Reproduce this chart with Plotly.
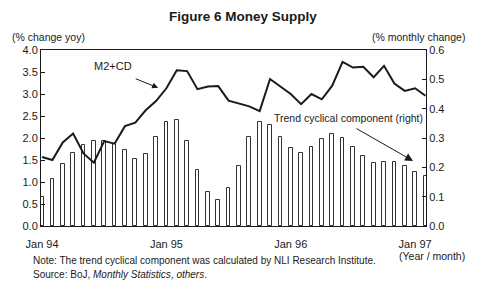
import plotly.graph_objects as go

months = list(range(38))  # Jan 94 .. Feb 97
tick_vals = [0, 12, 24, 36]
tick_text = ["Jan 94", "Jan 95", "Jan 96", "Jan 97"]

trend_cyclical = [0.10, 0.16, 0.21, 0.25, 0.275, 0.29, 0.29, 0.28, 0.26, 0.23, 0.245, 0.305,
                  0.355, 0.36, 0.29, 0.19, 0.115, 0.09, 0.13, 0.205, 0.305, 0.355, 0.345, 0.305,
                  0.265, 0.25, 0.27, 0.297, 0.312, 0.30, 0.268, 0.238, 0.215, 0.218, 0.218, 0.204,
                  0.183, 0.17]
m2cd = [1.57, 1.50, 1.90, 2.10, 1.65, 1.44, 1.93, 1.87, 2.27, 2.35, 2.63, 2.84,
        3.13, 3.54, 3.52, 3.11, 3.17, 3.18, 2.85, 2.79, 2.72, 2.61, 3.34, 3.17,
        3.00, 2.77, 3.00, 2.88, 3.19, 3.73, 3.60, 3.62, 3.38, 3.64, 3.24, 3.07,
        3.13, 2.96]

left_ticks = [0, 0.5, 1, 1.5, 2, 2.5, 3, 3.5, 4]
right_ticks = [0, 0.1, 0.2, 0.3, 0.4, 0.5, 0.6]

FONT = "Liberation Sans, Arial, sans-serif"
INK = "#1a1a1a"

fig = go.Figure()
fig.add_trace(go.Bar(x=months, y=trend_cyclical, width=0.36, yaxis="y",
                     marker=dict(color="white", line=dict(color="#333", width=1)),
                     name="Trend cyclical component (right)"))
fig.add_trace(go.Scatter(x=months, y=m2cd, yaxis="y2", mode="lines",
                         line=dict(color=INK, width=2), name="M2+CD"))

fig.update_layout(
    width=485, height=293,
    margin=dict(l=41, r=59, t=50, b=67),
    paper_bgcolor="white", plot_bgcolor="white",
    showlegend=False,
    font=dict(family=FONT, size=11, color=INK),
    bargap=0,
    xaxis=dict(range=[-0.1, 37.05], tickvals=tick_vals, ticktext=tick_text,
               showgrid=False, zeroline=False, showline=True, linecolor=INK, linewidth=1,
               mirror=True, ticks="", ticklabelstandoff=8, tickfont=dict(size=11)),
    yaxis=dict(side="right", range=[0, 0.6], tickvals=right_ticks,
               tickformat=".1f", showgrid=False, zeroline=False, showline=True,
               linecolor=INK, linewidth=1, ticks="inside", ticklen=4, tickcolor=INK,
               tickfont=dict(size=11)),
    yaxis2=dict(side="left", overlaying="y", range=[0, 4], tickvals=left_ticks,
                tickformat=".1f", showgrid=False, zeroline=False, showline=True,
                linecolor=INK, linewidth=1, ticks="inside", ticklen=4, tickcolor=INK,
                tickfont=dict(size=11)),
)


def paper_text(text, px, py, anchor="left", size=11):
    # px, py in pixel coordinates of the figure
    x = (px - 41) / (485 - 41 - 59)
    y = (293 - 67 - py) / (293 - 50 - 67)
    fig.add_annotation(text=text, xref="paper", yref="paper", x=x, y=y,
                       xanchor=anchor, yanchor="middle", showarrow=False,
                       font=dict(size=size, family=FONT, color=INK))

paper_text("<b>Figure 6 Money Supply</b>", 243, 16, "center", 13.5)
paper_text("(% change yoy)", 10, 37, "left", 10.5)
paper_text("(% monthly change)", 467, 37, "right", 10.5)
paper_text("(Year / month)", 467, 256, "right", 10.5)
paper_text("Note: The trend cyclical component was calculated by NLI Research Institute.", 31, 260, "left", 10)
paper_text("Source: BoJ, <i>Monthly Statistics</i>, <i>others</i>.", 31, 274, "left", 10)

# M2+CD label and arrow
fig.add_annotation(text="M2+CD", x=6.8, y=3.63, xref="x", yref="y2", showarrow=False,
                   font=dict(size=11, family=FONT, color=INK))
fig.add_annotation(text="", x=11.2, y=3.14, ax=8.9, ay=3.36, xref="x", yref="y2",
                   axref="x", ayref="y2", showarrow=True, arrowhead=2, arrowsize=1.2,
                   arrowwidth=1, arrowcolor=INK)
# Trend label and arrow
fig.add_annotation(text="Trend cyclical component (right)", x=29.6, y=0.368, xref="x", yref="y",
                   showarrow=False, font=dict(size=10.5, family=FONT, color=INK))
fig.add_annotation(text="", x=35.8, y=0.222, ax=30.2, ay=0.335, xref="x", yref="y",
                   axref="x", ayref="y", showarrow=True, arrowhead=2, arrowsize=1.6,
                   arrowwidth=1, arrowcolor=INK)

fig.write_html("out.html")
